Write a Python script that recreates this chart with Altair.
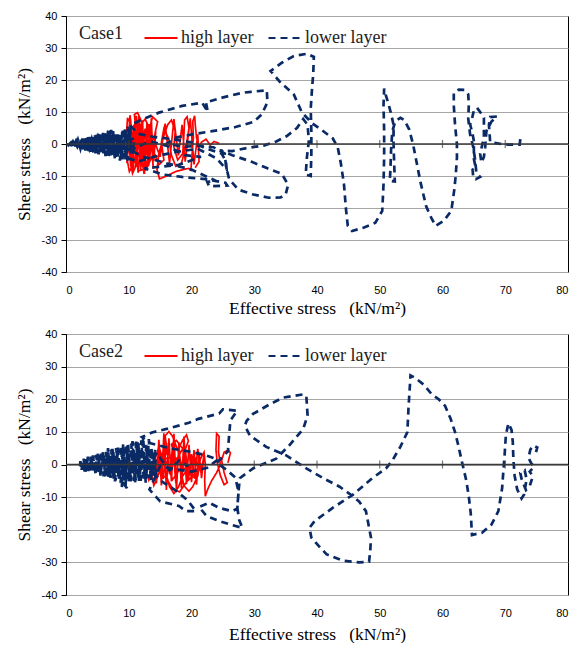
import altair as alt
import pandas as pd

# ---------------- data ----------------
X_TICKS = [0, 10, 20, 30, 40, 50, 60, 70, 80]
Y_TICKS = [-40, -30, -20, -10, 0, 10, 20, 30, 40]
ZERO_TICKS = [10, 20, 30, 40, 50, 60, 70]
SERIES = ["high layer", "lower layer"]

# Case 1 - lower layer (dashed navy), path (x, y)
C1_LOWER = [
    (72.4, 1.5), (72.3, -0.2), (70.5, -0.2), (69.0, 0.1), (67.6, 0.6), (67.4, 6.0), (67.6, 8.4), (68.7, 8.6),
    (67.8, 7.0), (67.0, 4.0), (66.8, -1.0), (66.6, -4.0), (66.2, -5.8), (66.0, -3.0), (66.6, 2.0), (66.6, 8.2),
    (66.0, 10.0), (65.5, 11.3), (65.0, 10.5), (64.6, 7.0), (64.4, 6.2), (64.8, 3.0), (65.0, 0.9), (65.0, -4.7),
    (65.3, -7.4), (64.8, -8.0), (64.9, -10.5), (65.3, -11.0), (66.0, -10.3), (65.4, -9.0), (65.2, -5.0),
    (64.9, -1.0), (64.4, 3.0), (64.1, 8.0), (64.2, 12.4), (64.1, 15.5), (63.5, 16.9), (62.6, 17.0), (61.8, 16.0),
    (61.8, 12.0), (62.0, 6.0), (62.3, 0.0), (62.3, -4.3), (62.1, -10.0), (61.9, -14.0), (61.4, -20.9),
    (60.2, -24.0), (58.9, -25.6), (58.2, -23.0), (57.4, -19.5), (56.5, -12.0), (55.8, -5.0), (55.3, 0.0),
    (54.7, 4.5), (53.9, 7.5), (53.3, 8.2), (52.5, 7.2), (52.0, 4.0), (51.8, -2.0), (51.7, -8.0), (51.6, -11.5),
    (52.4, -11.7), (52.3, -6.0), (52.2, 0.0), (52.2, 6.0), (51.8, 9.5), (51.4, 12.5), (51.0, 15.0), (50.7, 17.3),
    (50.6, 12.0), (50.7, 4.0), (50.7, -4.0), (50.6, -12.6), (50.4, -20.9), (49.3, -24.6), (47.5, -26.1),
    (45.6, -27.2), (44.9, -25.5), (44.6, -20.0), (44.3, -12.6), (43.8, -6.0), (43.3, -1.0), (42.5, 1.8),
    (40.6, 4.6), (39.3, 6.4), (37.6, 9.8), (36.3, 15.5), (34.2, 19.2), (32.6, 22.8), (34.4, 25.4), (36.3, 27.5),
    (38.4, 28.2), (39.5, 27.2), (39.4, 22.0), (39.2, 17.0), (39.0, 11.0), (39.1, 4.0), (39.1, -3.0), (39.0, -10.0),
    (38.2, -9.6), (38.4, -4.0), (38.7, 1.0), (38.5, 6.0), (37.8, 7.8), (36.8, 5.0), (35.2, 2.5), (33.5, 0.8),
    (31.5, -0.5), (29.0, -1.2), (26.5, -2.2), (24.5, -2.0), (26.5, -3.5), (29.5, -5.5), (32.1, -7.6),
    (34.4, -9.3), (35.4, -12.8), (35.0, -15.8), (34.2, -16.7), (32.3, -16.8), (29.7, -15.7), (27.5, -14.3),
    (26.0, -11.0), (25.5, -7.0), (25.3, -3.0), (23.5, -1.0), (21.2, -0.6), (19.0, -0.8), (16.0, 0.0),
    (17.5, 2.0), (20.1, 3.0), (23.3, 4.0), (27.0, 5.3), (29.9, 6.9), (31.2, 9.3), (32.1, 13.0), (32.0, 16.8),
    (29.5, 16.3), (28.1, 16.0), (24.9, 14.5), (22.3, 13.0), (22.6, 10.0), (21.7, 12.9), (18.5, 11.9),
    (14.8, 9.8), (11.6, 7.2), (10.2, 5.8), (11.5, 3.2), (14.0, 2.2), (17.0, 1.5), (20.0, 0.5), (22.5, -1.5),
    (24.8, -3.0), (25.5, -5.5), (25.6, -8.0), (24.0, -4.5), (21.0, -1.5), (17.5, -2.5), (14.0, -4.0),
    (11.5, -5.5), (10.0, -4.5), (11.0, -1.0), (13.5, 0.8), (16.0, -0.5), (19.0, -3.5), (21.5, -4.0),
    (18.0, -6.5), (12.5, -7.6), (15.3, -9.5), (18.5, -10.3), (22.2, -11.0), (25.4, -12.1), (25.7, -13.0),
    (22.8, -13.2), (22.5, -11.8), (24.0, -11.6), (20.0, -8.0), (16.0, -6.0), (12.0, -3.8), (10.4, -2.0),
    (10.2, 5.2), (9.5, -4.5), (9.0, 4.8), (8.6, -5.2), (8.2, 3.6), (7.8, -4.6), (7.2, 4.4), (6.8, -4.2),
    (6.4, 3.8), (6.0, -3.6), (5.6, 3.4), (5.2, -3.2), (4.8, 2.8), (4.4, -2.6), (4.0, 2.4), (3.6, -2.2),
    (3.2, 1.8), (2.8, -1.6), (2.4, 1.4), (2.0, -1.2), (1.6, 1.0), (1.2, -0.7), (0.8, 0.5), (0.4, -0.3),
    (0.3, 0.2), (0.7, -0.6), (1.1, 0.8), (1.5, -1.0), (1.9, 1.3), (2.3, -1.5), (2.7, 1.7), (3.1, -2.0),
    (3.5, 2.1), (3.9, -2.4), (4.3, 2.6), (4.7, -2.9), (5.1, 3.2), (5.5, -3.1), (5.9, 3.5), (6.3, -3.8),
    (6.7, 4.1), (7.1, -4.3), (7.5, 4.0), (7.9, -4.0), (8.3, 3.0), (8.7, -4.4), (9.1, 3.9), (9.5, -5.0),
    (9.9, 5.4), (9.7, 0.6), (9.3, -2.8), (8.9, 2.4), (8.5, -1.8), (8.1, 2.0), (7.7, -3.0), (7.3, 2.8),
    (6.9, -2.2), (6.5, 2.5), (6.1, -2.6), (5.7, 1.9), (5.3, -2.2), (4.9, 2.0), (4.5, -1.6), (4.1, 1.5),
    (3.7, -1.4), (3.3, 1.2), (2.9, -0.9), (2.5, 1.0), (2.1, -0.6), (1.7, 0.5), (1.3, -0.3), (0.9, 0.3),
    (0.5, -0.1), (0.6, 0.4), (1.4, -0.4), (2.0, 0.9), (2.6, -1.1), (3.4, 1.4), (4.2, -1.8), (5.0, 2.3),
    (5.8, -2.5), (6.6, 2.9), (7.4, -3.3), (8.2, 3.4), (9.0, -3.4), (9.6, 4.2), (10.4, -3.0), (11.0, 1.8),
    (9.2, 1.0), (7.6, -1.2), (6.2, 0.8), (4.6, -0.6), (3.0, 0.4), (1.5, -0.2),
    (0.2, -0.1), (0.9, -0.4), (1.3, 0.7), (1.8, -0.9), (2.2, 1.2), (2.6, -1.4), (3.0, 1.6), (3.4, -1.9),
    (3.8, 2.2), (4.2, -2.2), (4.6, 2.7), (5.0, -2.8), (5.4, 3.0), (5.8, -3.3), (6.2, 3.4), (6.6, -3.6),
    (7.0, 4.2), (7.4, -4.1), (7.8, 3.6), (8.2, -4.2), (8.6, 3.2), (9.0, -4.8), (9.4, 4.6), (9.8, -5.2),
    (10.3, 4.8), (10.0, -1.0), (9.4, 2.0), (8.8, -2.4), (8.0, 1.4), (7.2, -1.8), (6.4, 1.4), (5.6, -1.2),
    (4.8, 1.0), (4.0, -0.8), (3.2, 0.6), (2.4, -0.4), (1.6, 0.3), (0.8, -0.2), (0.0, 0.0),
]

# Case 1 - high layer (solid red)
C1_HIGH = [
    (24.4, 0.2), (23.6, 0.8), (23.0, -0.3), (22.3, 1.5), (21.6, 0.6), (21.2, -1.0), (20.8, 2.0), (20.6, 6.0),
    (20.5, 8.8), (20.2, 7.0), (20.3, 2.0), (20.1, -3.0), (19.9, -8.2), (19.5, -7.6), (17.5, -8.6), (15.8, -10.2),
    (14.9, -10.9), (14.5, -8.0), (14.8, -3.0), (15.5, 2.0), (16.2, 6.0), (16.8, 7.5), (17.4, 4.0), (17.2, -1.0),
    (17.8, -5.0), (18.6, -3.0), (18.8, 3.0), (18.9, 7.5), (19.3, 8.5), (19.6, 5.0), (19.2, 0.0), (18.4, -6.0),
    (17.5, -7.0), (16.8, -3.5), (16.4, 1.5), (15.6, 4.8), (15.2, 0.5), (15.6, -5.0), (14.8, -6.5), (13.9, -2.0),
    (14.2, 3.5), (14.6, 7.0), (13.8, 8.5), (13.2, 4.2), (13.5, -1.5), (13.2, -6.5), (12.4, -8.8), (12.0, -4.0),
    (12.3, 2.0), (12.0, 7.2), (11.4, 9.8), (10.9, 9.2), (11.2, 3.0), (11.4, -3.0), (11.0, -7.5), (10.6, -9.2),
    (10.2, -5.0), (10.5, 1.0), (10.2, 6.5), (9.8, 8.2), (9.6, 2.0), (9.7, -4.5), (10.1, -8.6), (10.8, -6.0),
    (11.8, -2.5), (12.8, 0.5), (13.4, 4.5), (12.6, 7.8), (11.7, 5.5), (11.1, 1.5), (10.4, -1.5), (9.6, -0.5),
    (10.6, 2.4), (12.0, -1.5), (13.6, -4.5), (12.8, -7.6), (11.6, -8.4), (10.9, -4.5), (10.0, 3.8), (11.0, 6.2),
    (12.6, 3.4), (13.2, -0.8), (12.2, -5.0), (11.2, -1.8), (10.4, -3.2),
    (10.0, -2.0), (10.3, 7.8), (10.7, -8.8), (11.0, 8.4), (11.3, -7.2), (11.6, 9.2), (11.9, -8.0), (12.2, 7.4),
    (12.5, -9.4), (12.9, 6.8), (13.2, -6.6), (13.6, 8.0), (13.9, -7.8), (13.5, 5.2), (13.0, -4.4), (12.6, 4.8),
    (12.1, -6.2), (11.7, 6.4), (11.2, -5.6), (10.8, 5.0), (10.3, -6.8), (9.9, 4.4), (10.4, -8.0), (10.9, 3.2),
    (11.5, -9.0), (12.0, 5.6), (12.7, -3.2), (13.3, 6.2), (13.8, -3.6), (14.3, 4.0), (14.0, -5.2), (13.4, 2.0),
    (12.8, -8.2), (12.3, 2.8), (11.8, -3.8), (11.2, 8.8), (10.6, -4.0), (10.1, 2.6), (9.7, -6.0), (10.2, 9.0),
    (10.8, -2.6), (11.4, 4.0), (12.0, -7.0), (12.6, 1.0), (13.1, -2.0), (13.7, 3.0), (15.0, -4.0), (15.8, 6.4),
    (16.5, -6.0), (17.2, 7.8), (17.9, -3.6), (18.5, 6.0), (19.0, -5.5), (19.8, 8.0), (20.4, -6.4), (21.0, 3.0),
    (21.2, -5.5), (20.6, -7.4),
]

# Case 2 - lower layer (dashed navy)
C2_LOWER = [
    (74.9, 3.8), (75.1, 5.2), (74.5, 5.8), (74.0, 4.6), (73.7, 2.0), (74.2, 0.2), (74.6, -0.6), (73.9, -2.2),
    (74.4, -3.6), (73.9, -6.6), (73.3, -7.8), (72.6, -4.4), (72.4, -2.6), (73.1, -1.8), (73.4, -4.5),
    (73.0, -9.2), (72.6, -10.4), (71.9, -7.6), (71.5, -3.5), (71.3, 1.5), (71.2, 7.0), (71.0, 10.6),
    (70.5, 12.6), (70.1, 9.0), (69.9, 3.0), (69.7, -2.0), (69.5, -7.3), (68.9, -14.3), (67.8, -18.4),
    (66.3, -20.9), (64.7, -21.6), (64.5, -15.0), (64.2, -10.0), (63.8, -5.0), (63.1, 0.8), (62.5, 6.0),
    (62.0, 9.9), (61.3, 14.0), (60.4, 18.0), (59.4, 20.0), (58.3, 21.5), (57.0, 24.5), (55.6, 26.6),
    (54.9, 27.3), (54.8, 24.0), (54.6, 18.0), (54.4, 9.9), (53.3, 5.5), (52.0, 1.2), (51.0, -1.2),
    (48.8, -4.2), (45.7, -9.3), (42.5, -13.3), (39.6, -17.4), (38.8, -19.4), (39.1, -22.4), (40.3, -25.0),
    (41.5, -27.5), (44.1, -29.5), (46.7, -30.0), (48.3, -29.8), (48.5, -26.0), (48.6, -22.4), (47.8, -14.3),
    (46.7, -11.3), (45.4, -9.3), (43.6, -6.8), (41.0, -4.2), (38.3, -1.2), (35.1, 2.8), (31.9, 5.4),
    (29.3, 8.9), (28.5, 11.9), (28.8, 13.4), (29.8, 15.5), (32.5, 18.5), (34.6, 20.5), (37.8, 21.5),
    (38.3, 21.0), (38.5, 15.0), (37.8, 10.9), (35.6, 5.9), (33.5, 1.8), (29.8, -1.2), (27.7, -4.2),
    (27.5, -8.1), (27.3, -13.3), (27.6, -17.0), (28.1, -19.4), (26.5, -18.6), (24.4, -17.3), (22.4, -15.8),
    (21.2, -13.0), (22.8, -11.7), (24.4, -13.3), (26.5, -14.3), (27.3, -13.5), (27.5, -8.5), (27.0, -4.0),
    (25.5, -1.5), (24.0, 0.5), (25.8, 4.0), (26.0, 9.0), (26.2, 13.5), (27.3, 16.5), (25.0, 16.9),
    (24.4, 15.6), (21.1, 14.0), (19.6, 12.8), (16.2, 11.0), (13.7, 9.8), (12.1, 8.4), (13.5, 6.5),
    (16.5, 5.0), (19.5, 4.0), (22.0, 3.0), (24.2, 1.5), (22.5, -1.0), (20.0, -2.2), (17.5, -1.5),
    (15.0, -0.5), (13.3, -7.7), (15.0, -11.3), (18.0, -12.7), (19.1, -14.3), (20.7, -14.3), (19.4, -11.0),
    (17.5, -8.0), (15.5, -5.5), (14.0, -3.0), (14.2, 4.5), (13.6, -4.8), (13.2, 7.8), (12.7, -5.6),
    (12.3, 8.2), (11.8, -4.2), (11.4, 6.8), (11.0, -5.8), (10.6, 7.2), (10.2, -4.6), (9.8, 5.8), (9.5, -6.4),
    (9.1, 6.2), (8.9, -7.4), (9.6, -7.0), (8.4, -3.6), (8.2, 5.4), (7.8, -5.2), (7.4, 4.8), (7.0, -4.4),
    (6.7, 5.0), (6.3, -4.2), (5.9, 3.8), (5.5, -3.4), (5.1, 3.6), (4.7, -3.0), (4.3, 2.8), (3.9, -2.6),
    (3.5, 2.4), (3.1, -2.2), (2.8, 1.8), (2.5, -1.6), (2.3, 1.0), (2.2, -0.6),
    (2.4, 0.4), (2.8, -1.2), (3.2, 1.6), (3.6, -2.0), (4.0, 2.4), (4.4, -2.4), (4.8, 2.9), (5.2, -3.0),
    (5.6, 3.3), (6.0, -3.6), (6.4, 3.9), (6.8, -4.3), (7.2, 4.6), (7.6, -4.5), (8.0, 5.0), (8.4, -4.8),
    (8.8, 5.6), (9.2, -5.2), (9.6, 6.0), (10.0, -5.6), (10.4, 6.4), (10.8, -5.0), (11.2, 7.0), (11.6, -5.4),
    (12.0, 7.4), (12.4, -4.6), (12.8, 6.0), (13.2, -4.2), (13.6, 5.2), (14.0, -3.4), (14.4, 3.6),
    (13.8, 0.8), (13.4, -2.0), (12.9, 2.6), (12.5, -2.8), (12.0, 1.8), (11.5, -3.0), (11.0, 3.4), (10.5, -3.4),
    (10.0, 2.8), (9.5, -2.4), (9.0, 3.0), (8.5, -2.6), (8.0, 2.2), (7.5, -3.0), (7.0, 2.6), (6.5, -2.2),
    (6.0, 2.0), (5.5, -1.8), (5.0, 1.6), (4.5, -1.6), (4.0, 1.2), (3.5, -1.0), (3.0, 0.8), (2.5, -0.6),
    (2.3, -0.3), (2.7, 1.3), (3.1, -1.7), (3.5, 1.9), (3.9, -2.3), (4.3, 2.6), (4.7, -2.7), (5.1, 3.1),
    (5.5, -3.2), (5.9, 3.6), (6.3, -3.9), (6.7, 4.3), (7.1, -4.1), (7.5, 4.7), (7.9, -4.9), (8.3, 5.2),
    (8.7, -5.6), (9.1, 5.4), (9.5, -5.0), (9.9, 6.2), (10.3, -5.2), (10.7, 6.8), (11.1, -4.8), (11.5, 7.2),
    (11.9, -5.0), (12.3, 6.6), (12.7, -4.4), (13.1, 5.6), (13.5, -3.8), (13.9, 4.2), (14.3, -2.6),
    (13.0, 0.8), (11.5, -1.5), (10.0, 1.2), (8.5, -1.0), (7.0, 0.8), (5.5, -0.6), (4.0, 0.5), (2.2, 0.0),
    (3.0, 0.8), (4.5, -1.5), (6.0, 2.0), (7.5, -2.5), (9.0, 3.0), (10.5, -2.0), (12.0, 3.5),
    (13.5, -1.0), (15.0, 2.0), (16.5, -1.8), (18.0, 1.2), (19.5, -0.6),
]

# Case 2 - high layer (solid red)
C2_HIGH = [
    (25.8, 0.5), (26.2, 3.5), (25.9, 4.4), (25.2, 3.8), (24.8, 1.2), (25.2, -2.5), (25.7, -5.5), (25.2, -6.2),
    (24.6, -3.4), (24.1, 0.6), (23.9, 4.5), (24.0, 9.5), (24.4, 8.6), (24.3, 4.0), (24.6, 0.0), (24.0, -2.5),
    (23.2, -5.0), (22.6, -7.5), (22.2, -9.7), (22.1, -5.0), (22.2, 0.0), (22.0, 3.8), (21.4, 1.6), (21.0, -3.5),
    (20.2, -6.8), (19.6, -8.2), (18.8, -6.5), (18.3, -2.0), (18.8, 3.5), (19.5, 7.2), (19.2, 9.1), (18.6, 7.5),
    (17.8, 4.4), (17.0, 8.6), (16.4, 10.1), (15.8, 8.8), (16.1, 4.2), (15.4, 0.5), (14.6, -3.8), (14.0, -6.4),
    (13.7, -3.5), (14.2, 1.8), (14.8, 5.5), (15.3, 2.5), (15.9, -2.5), (16.5, -6.8), (17.2, -8.9), (17.9, -7.0),
    (18.6, -3.5), (19.6, -0.8), (20.6, 1.8), (21.2, -1.5), (20.8, -4.5), (19.8, -3.2), (18.9, 0.6), (17.8, -2.4),
    (17.0, -4.6), (16.3, -1.2), (15.5, 3.6), (14.6, 2.0), (13.9, -1.5), (13.2, -4.8), (12.8, -2.4), (13.6, 0.8),
    (14.8, -0.6), (16.2, 2.2), (17.5, 1.2), (18.6, 4.8), (17.6, 7.4), (16.8, 6.2), (17.4, 2.2), (18.8, -1.4),
    (20.1, 0.4), (21.4, 0.2), (20.5, -2.8), (19.2, -5.4), (18.1, -8.4), (17.0, -7.4), (16.0, -4.2),
    (15.0, -2.6), (14.3, -1.0),
    (14.0, 2.5), (14.4, -5.8), (14.8, 7.6), (15.2, -6.4), (15.6, 9.6), (16.0, -7.8), (16.4, 8.0), (16.8, -5.2),
    (17.2, 9.4), (17.6, -8.0), (18.0, 6.8), (18.4, -7.2), (18.8, 8.6), (19.2, -6.0), (19.6, 6.0), (20.0, -5.4),
    (20.4, 4.4), (20.8, -6.2), (21.2, 3.6), (21.6, -4.2), (22.0, 2.8), (21.5, -2.6), (21.0, 4.8), (20.5, -3.8),
    (20.0, 3.2), (19.5, -4.6), (19.0, 5.0), (18.5, -3.2), (18.0, 4.6), (17.5, -5.6), (17.0, 5.6), (16.5, -3.0),
    (16.0, 6.6), (15.5, -4.4), (15.0, 4.0), (14.5, -2.4), (14.0, -0.8),
]

NAVY = "#0a2a66"
RED = "#ff0000"
SERIF = "Liberation Serif"
SANS = "Liberation Sans"
UNIT = "\u00a0\u00a0\u00a0(kN/m²)"


def frame(points, name):
    return pd.DataFrame({
        "x": [p[0] for p in points],
        "y": [p[1] for p in points],
        "i": list(range(len(points))),
        "layer": name,
    })


def panel(high, low, case, height, x_title_pad):
    x_enc = alt.X("x:Q", scale=alt.Scale(domain=[0, 80], nice=False, zero=False),
                  axis=alt.Axis(values=X_TICKS, title="Effective stress" + UNIT, ticks=False, tickSize=0,
                                domain=False, grid=False, labelPadding=12, titlePadding=x_title_pad,
                                labelOverlap=False, labelFont=SANS, labelFontSize=11, labelColor="#000",
                                titleFont=SERIF, titleFontSize=17.5, titleFontWeight="normal",
                                titleColor="#000"))
    y_enc = alt.Y("y:Q", scale=alt.Scale(domain=[-40, 40], nice=False, zero=False),
                  axis=alt.Axis(values=Y_TICKS, title="Shear stress" + UNIT, tickSize=5, tickColor="#000",
                                domain=True, domainColor="#000", grid=True, gridColor="#a6a6a6",
                                labelPadding=4, titlePadding=8, labelOverlap=False,
                                labelExpr="'' + datum.value",
                                labelFont=SANS, labelFontSize=11, labelColor="#000",
                                titleFont=SERIF, titleFontSize=17.5, titleFontWeight="normal",
                                titleColor="#000"))
    legend = alt.Legend(orient="none", legendX=13, legendY=4, direction="horizontal", title=case,
                        titleOrient="left", titleFont=SERIF, titleFontSize=18, titleFontWeight="normal",
                        titleColor="#222", titlePadding=20, titleBaseline="middle",
                        labelFont=SERIF, labelFontSize=18, labelColor="#222", labelOffset=2,
                        symbolType="stroke", symbolSize=1089, symbolStrokeWidth=2.2, columnPadding=10)
    color = alt.Color("layer:N", scale=alt.Scale(domain=SERIES, range=[RED, NAVY]), legend=legend)
    dash = alt.StrokeDash("layer:N", scale=alt.Scale(domain=SERIES, range=[[1, 0], [7, 5]]), legend=legend)

    red = alt.Chart(frame(high, SERIES[0])).mark_line(strokeWidth=1.7).encode(
        x=x_enc, y=y_enc, order="i:Q", color=color, strokeDash=dash)
    navy = alt.Chart(frame(low, SERIES[1])).mark_line(strokeWidth=2.7).encode(
        x=x_enc, y=y_enc, order="i:Q", color=color, strokeDash=dash)
    zero = alt.Chart(pd.DataFrame({"y": [0]})).mark_rule(color="#3a3a3a", strokeWidth=1.3).encode(
        y=y_enc)
    ticks = alt.Chart(pd.DataFrame({"x": ZERO_TICKS, "y": [0] * len(ZERO_TICKS)})).mark_tick(
        orient="vertical", size=8, thickness=1.2, color="#3a3a3a").encode(x=x_enc, y=y_enc)
    return alt.layer(red, navy, zero, ticks).properties(width=502, height=height)


chart = alt.vconcat(
    panel(C1_HIGH, C1_LOWER, "Case1", 256, 4),
    panel(C2_HIGH, C2_LOWER, "Case2", 261, 7),
    spacing=10,
).resolve_scale(color="independent", strokeDash="independent").resolve_legend(
    color="independent", strokeDash="independent"
).properties(
    padding={"left": 6, "top": 1, "right": 0, "bottom": 0}
).configure_view(stroke="#000", strokeWidth=1).configure_legend(
    labelFont=SERIF, titleFont=SERIF
)

chart.save("out.html", embed_options={"renderer": "svg", "actions": False})
